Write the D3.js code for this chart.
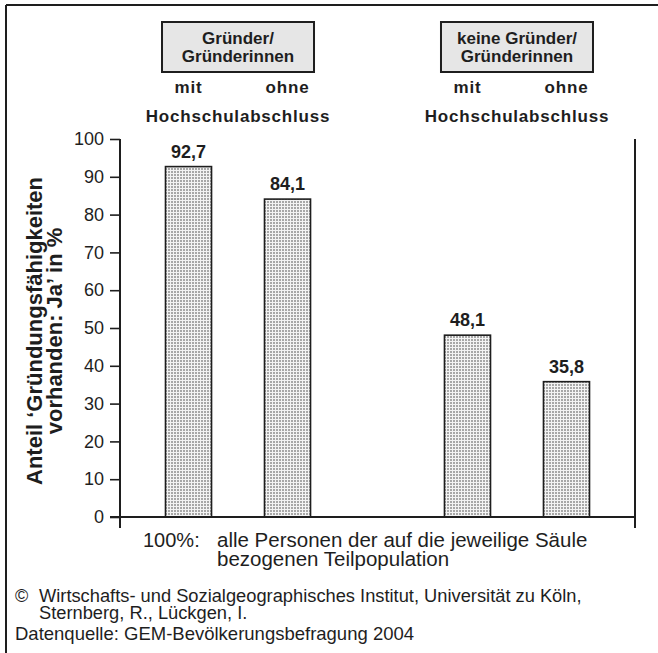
<!DOCTYPE html>
<html>
<head>
<meta charset="utf-8">
<script src="https://cdn.jsdelivr.net/npm/d3@7"></script>
<style>
  html, body { margin: 0; padding: 0; background: #fff; }
  svg { display: block; font-family: "Liberation Sans", Arial, Helvetica, sans-serif; }
</style>
</head>
<body>
<svg id="chart" width="658" height="653"></svg>
<script>
// --- data ---
const groups = ["Gründer/Gründerinnen", "keine Gründer/Gründerinnen"];
const groupTitles = [["Gründer/", "Gründerinnen"], ["keine Gründer/", "Gründerinnen"]];
const subgroups = ["mit", "ohne"];
const values = [
  [92.7, 84.1],   // Gründer/Gründerinnen: mit / ohne Hochschulabschluss
  [48.1, 35.8]    // keine Gründer/Gründerinnen: mit / ohne Hochschulabschluss
];
const valueLabels = [["92,7", "84,1"], ["48,1", "35,8"]];
const yTicks = [0, 10, 20, 30, 40, 50, 60, 70, 80, 90, 100];
const subTitle = "Hochschulabschluss";
const yTitle = ["Anteil ‘Gründungsfähigkeiten", "vorhanden: Ja’ in %"];
const noteLabel = "100%:";
const noteLines = ["alle Personen der auf die jeweilige Säule", "bezogenen Teilpopulation"];
const creditLines = ["©", "Wirtschafts- und Sozialgeographisches Institut, Universität zu Köln,", "Sternberg, R., Lückgen, I."];
const sourceLine = "Datenquelle: GEM-Bevölkerungsbefragung 2004";

// --- layout ---
const ink = "#1e1e1e";
const svg = d3.select("#chart");
const plot = { left: 120, right: 635, top: 139, bottom: 517 };

const y = d3.scaleLinear().domain([0, 100]).range([plot.bottom, plot.top]);
const xGroup = d3.scalePoint().domain(groups).range([plot.left, plot.right]).padding(0.423);
const xSub = d3.scaleBand().domain(subgroups).range([-99, 99]).paddingInner(0.535).paddingOuter(0.2675);

// dotted fill for the columns
const defs = svg.append("defs");
const pat = defs.append("pattern")
  .attr("id", "dots").attr("patternUnits", "userSpaceOnUse")
  .attr("width", 3).attr("height", 3);
pat.append("rect").attr("width", 3).attr("height", 3).attr("fill", "#f4f4f4");
pat.append("rect").attr("width", 2).attr("height", 2).attr("fill", "#a8a8a8");

// outer frame (top and left edges)
svg.append("line").attr("x1", 6).attr("x2", 658).attr("y1", 5).attr("y2", 5)
  .attr("stroke", ink).attr("stroke-width", 2);
svg.append("line").attr("x1", 6).attr("x2", 6).attr("y1", 5).attr("y2", 653)
  .attr("stroke", ink).attr("stroke-width", 2);

// group header boxes and sub labels
groups.forEach((g, gi) => {
  const cx = xGroup(g);
  svg.append("rect")
    .attr("x", cx - 76).attr("y", 22).attr("width", 152).attr("height", 50)
    .attr("fill", "#e6e6e6").attr("stroke", ink).attr("stroke-width", 2);
  groupTitles[gi].forEach((t, li) => {
    svg.append("text")
      .attr("x", cx).attr("y", 44 + li * 18)
      .attr("text-anchor", "middle")
      .attr("font-size", 17).attr("font-weight", "bold").attr("fill", ink)
      .text(t);
  });
  subgroups.forEach(s => {
    svg.append("text")
      .attr("x", cx + xSub(s) + xSub.bandwidth() / 2).attr("y", 93)
      .attr("text-anchor", "middle")
      .attr("font-size", 17).attr("font-weight", "bold").attr("fill", ink)
      .attr("letter-spacing", 0.8)
      .text(s);
  });
  svg.append("text")
    .attr("x", cx).attr("y", 122)
    .attr("text-anchor", "middle")
    .attr("font-size", 17).attr("font-weight", "bold").attr("fill", ink)
    .attr("letter-spacing", 0.8)
    .text(subTitle);
});

// y axis
const yAxis = d3.axisLeft(y).tickValues(yTicks).tickSize(10).tickPadding(6);
const yg = svg.append("g").attr("transform", `translate(${plot.left},0)`).call(yAxis);
yg.select(".domain").remove();
yg.selectAll(".tick line").attr("stroke", ink).attr("stroke-width", 1.6);
yg.selectAll(".tick text")
  .attr("font-size", 18).attr("fill", ink)
  .attr("font-family", "'Liberation Sans', Arial, sans-serif");

// axis frame lines
svg.append("line").attr("x1", plot.left).attr("x2", plot.left)
  .attr("y1", y(100)).attr("y2", plot.bottom + 11)
  .attr("stroke", ink).attr("stroke-width", 2);
svg.append("line").attr("x1", plot.right).attr("x2", plot.right)
  .attr("y1", y(100)).attr("y2", plot.bottom + 11)
  .attr("stroke", ink).attr("stroke-width", 2);

// columns
groups.forEach((g, gi) => {
  subgroups.forEach((s, si) => {
    const v = values[gi][si];
    const x0 = xGroup(g) + xSub(s);
    svg.append("rect")
      .attr("x", x0).attr("y", y(v))
      .attr("width", xSub.bandwidth()).attr("height", y(0) - y(v))
      .attr("fill", "url(#dots)").attr("stroke", ink).attr("stroke-width", 1.6);
    svg.append("text")
      .attr("x", x0 + xSub.bandwidth() / 2).attr("y", y(v) - 9)
      .attr("text-anchor", "middle")
      .attr("font-size", 18).attr("font-weight", "bold").attr("fill", ink)
      .text(valueLabels[gi][si]);
  });
});

// baseline
svg.append("line").attr("x1", plot.left - 10).attr("x2", plot.right + 1)
  .attr("y1", y(0)).attr("y2", y(0))
  .attr("stroke", ink).attr("stroke-width", 2);

// y axis title
const yt = svg.append("text")
  .attr("transform", `translate(42,${y(50) + 3}) rotate(-90)`)
  .attr("text-anchor", "middle")
  .attr("font-size", 22).attr("font-weight", "bold").attr("fill", ink);
yt.append("tspan").attr("x", 0).attr("y", 0).text(yTitle[0]);
yt.append("tspan").attr("x", 0).attr("y", 20).text(yTitle[1]);

// note under the axis
svg.append("text").attr("x", 143).attr("y", 547)
  .attr("font-size", 20).attr("fill", ink).text(noteLabel);
noteLines.forEach((t, i) => {
  svg.append("text").attr("x", 217).attr("y", 547 + i * 18.5)
    .attr("font-size", 20.5).attr("fill", ink).text(t);
});

// credits and source
svg.append("text").attr("x", 15).attr("y", 602)
  .attr("font-size", 18).attr("fill", ink).text(creditLines[0]);
svg.append("text").attr("x", 39).attr("y", 602)
  .attr("font-size", 18.3).attr("fill", ink).text(creditLines[1]);
svg.append("text").attr("x", 39).attr("y", 619)
  .attr("font-size", 18.3).attr("fill", ink).text(creditLines[2]);
svg.append("text").attr("x", 15).attr("y", 640)
  .attr("font-size", 18.5).attr("fill", ink).text(sourceLine);
</script>
</body>
</html>
